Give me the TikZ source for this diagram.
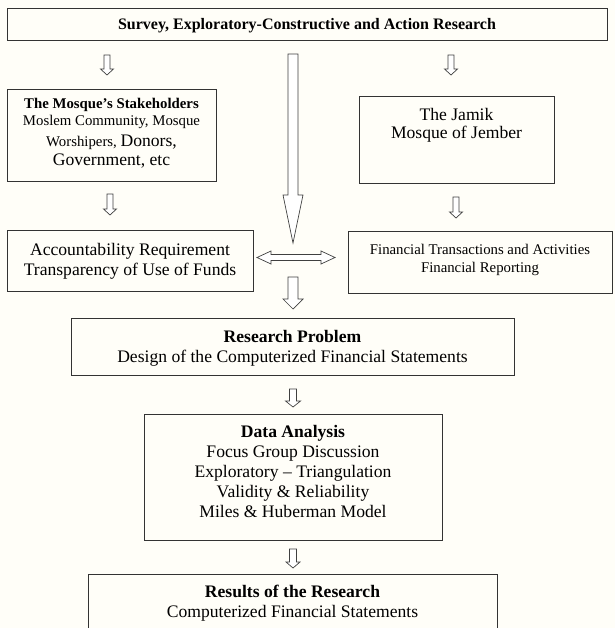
\documentclass[tikz,border=0pt]{standalone}
\usepackage{fontspec}
\setmainfont{Liberation Serif}
\newcommand\bgfont{\fontsize{17.6}{20.5}\selectfont}
\newcommand\smfont{\fontsize{14.8}{17}\selectfont}
\newcommand\ttlfont{\fontsize{16}{19}\selectfont\bfseries}
\definecolor{boxc}{HTML}{333333}
\definecolor{bgc}{HTML}{FFFEF8}
\newcommand{\dnarrow}[6]{%
  \draw[blk] (#1-#4,#2) -- (#1+#4,#2) -- (#1+#4,#3-#6) -- (#1+#5,#3-#6) -- (#1,#3)
    -- (#1-#5,#3-#6) -- (#1-#4,#3-#6) -- cycle;}
\begin{document}
\begin{tikzpicture}[x=1pt,y=-1pt,
  box/.style={draw=boxc, line width=0.9pt, inner sep=0pt},
  ln/.style={anchor=base, inner sep=0pt, font=\bgfont},
  sl/.style={anchor=base, inner sep=0pt, font=\smfont},
  blk/.style={draw=black!75, fill=white, line width=0.7pt, line join=miter}]
\clip (0,0) rectangle (615,628);
\fill[bgc] (0,0) rectangle (615,628);

% top box
\node[box, minimum width=600pt, minimum height=32pt] (top) at (307,24) {};
\node[ln, font=\ttlfont] (toptxt) at (307,29.5) {Survey, Exploratory-Constructive and Action Research};

% stakeholders
\node[box, minimum width=209pt, minimum height=92pt] (sh) at (111.5,135) {};
\node[sl, font=\smfont\bfseries] (sh1) at (111.5,108.5) {The Mosque’s Stakeholders};
\node[sl] (sh2) at (111.5,125.5) {Moslem Community, Mosque};
\node[sl] (sh3) at (111.5,147) {Worshipers, {\bgfont Donors,}};
\node[ln] (sh4) at (111.5,165.5) {Government, etc};

% Jamik
\node[box, minimum width=195pt, minimum height=87pt] (jm) at (456.5,139.5) {};
\node[ln] (jm1) at (456.5,120.5) {The Jamik};
\node[ln] (jm2) at (456.5,138.5) {Mosque of Jember};

% accountability
\node[box, minimum width=246pt, minimum height=61pt] (acc) at (130,260.5) {};
\node[ln] (acc1) at (130,255.5) {Accountability Requirement};
\node[ln] (acc2) at (130,275.5) {Transparency of Use of Funds};

% financial transactions
\node[box, minimum width=264pt, minimum height=62pt] (ft) at (480,262) {};
\node[sl] (ft1) at (480,254.5) {Financial Transactions and Activities};
\node[sl] (ft2) at (480,272.5) {Financial Reporting};

% research problem
\node[box, minimum width=443pt, minimum height=57pt] (rp) at (292.5,346.5) {};
\node[ln, font=\bgfont\bfseries] (rp1) at (292.5,342) {Research Problem};
\node[ln] (rp2) at (292.5,362) {Design of the Computerized Financial Statements};

% data analysis
\node[box, minimum width=298pt, minimum height=126pt] (da) at (293,477) {};
\node[ln, font=\bgfont\bfseries] (da1) at (293,437.5) {Data Analysis};
\node[ln] (da2) at (293,457.5) {Focus Group Discussion};
\node[ln] (da3) at (293,477.5) {Exploratory – Triangulation};
\node[ln] (da4) at (293,497.5) {Validity \& Reliability};
\node[ln] (da5) at (293,517.5) {Miles \& Huberman Model};

% results
\node[box, minimum width=409pt, minimum height=76pt] (rs) at (292.5,612) {};
\node[ln, font=\bgfont\bfseries] (rs1) at (292.5,597) {Results of the Research};
\node[ln] (rs2) at (292.5,617.5) {Computerized Financial Statements};

% block arrows
\dnarrow{107}{55}{75}{3}{6.5}{6}
\dnarrow{451}{55}{75}{3}{6.5}{6}
\dnarrow{293}{54}{243}{5}{10}{48}
\dnarrow{110}{194}{215}{3}{6.5}{6}
\dnarrow{456}{197}{218}{3}{6.5}{6}
\draw[blk] (257,257.5) -- (271,251) -- (271,254.5) -- (321,254.5) -- (321,251) -- (335,257.5)
  -- (321,264) -- (321,260.5) -- (271,260.5) -- (271,264) -- cycle;
\dnarrow{293}{277}{309}{5}{10}{10}
\dnarrow{293}{389}{407}{3.5}{7.5}{6}
\dnarrow{293}{549}{568}{3.5}{7}{6}
\end{tikzpicture}
\end{document}
